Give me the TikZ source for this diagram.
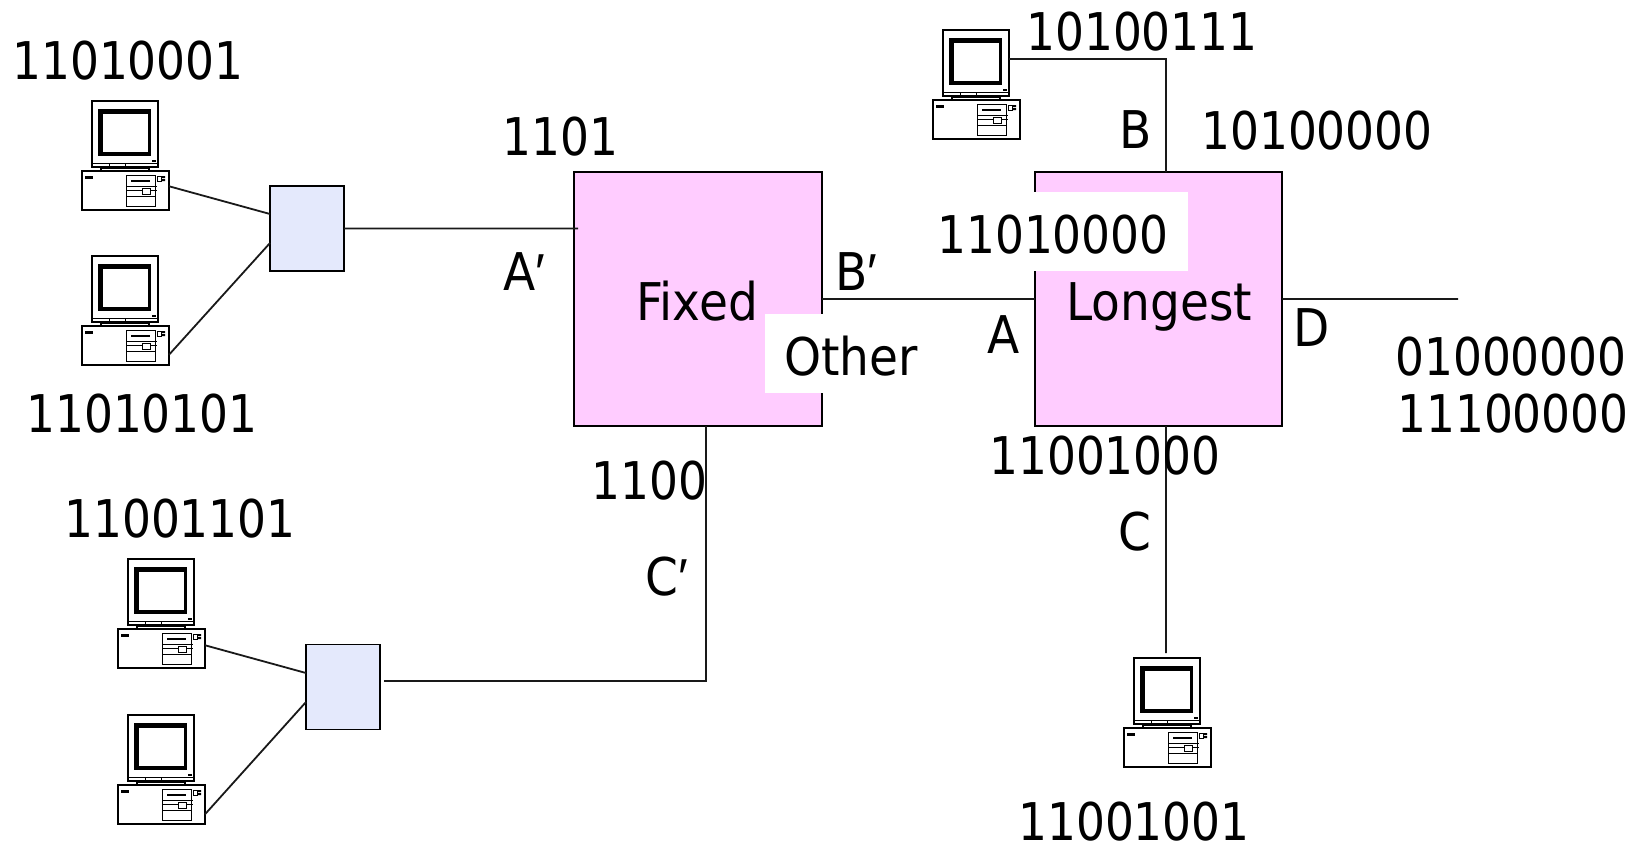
\documentclass[tikz,border=0pt]{standalone}
\usepackage{fontspec}
\setmainfont{DejaVu Sans}[FakeStretch=0.875]
\newfontfamily\wordfont{DejaVu Sans}[FakeStretch=0.905]
\newfontfamily\primefont{Liberation Sans}
\usepackage{xcolor}
\usetikzlibrary{positioning}
\definecolor{routerpink}{HTML}{FFCCFF}
\definecolor{switchblue}{HTML}{E4E9FC}
\newcommand{\pr}{{\primefont ′}}
\tikzset{
    wire/.style={line width=1.8pt, black!90},
    lbl/.style={anchor=base west, inner sep=0pt, font=\fontsize{52}{56}\selectfont},
    wordlbl/.style={lbl, font=\fontsize{52}{56}\selectfont\wordfont},
    router/.style={draw, line width=1.8pt, fill=routerpink, outer sep=0pt, minimum width=248pt, minimum height=254pt},
    switchbox/.style={draw, line width=1.8pt, fill=switchblue, outer sep=0pt, minimum width=74pt, minimum height=85pt},
    mask/.style={fill=white, inner xsep=19pt, text depth=18pt, text height=61pt},
    pcmon/.style={draw, line width=2pt, outer sep=0pt, minimum size=66pt, inner sep=0pt, anchor=north west},
    pcbase/.style={draw, line width=2pt, outer sep=0pt, minimum width=87.5pt, minimum height=38.5pt, inner sep=0pt, anchor=north west},
    computer/.pic={
        \node[pcmon] (mon) at (0,0) {};
        \node[pcbase] (base) at (-10.5,70) {};
        \fill (6,8) rectangle (59,54.5);
        \fill[white] (11,13) rectangle (56,50.5);
        \fill (60,58.5) rectangle (64,60.5);
        \draw[line width=.8pt] (0,62) -- (66,62) (17,62) -- (17,66) (33,62) -- (33,66);
        \draw[line width=1.5pt] (9,66) -- (9,70) (57,66) -- (57,70);
        \draw[line width=.8pt] (9,67.5) -- (57,67.5);
        \fill (-7,75) rectangle (0.5,78);
        \draw[line width=.8pt] (34,74) rectangle (63,105) (34,85) -- (65,85) (34,89) -- (65,89) (34,95) -- (63,95);
        \draw[line width=.8pt, fill=white] (50,87) rectangle (58,93);
        \fill (39,78.7) rectangle (58,80.7);
        \draw[line width=.6pt] (65,75) rectangle (69,80);
        \fill (70,75) rectangle (73,77) (70,78) rectangle (73,80);
    }
}

\begin{document}
\begin{tikzpicture}[x=1pt, y=-1pt]
    \useasboundingbox (0,0) rectangle (1637,844);

    \node[router] (fixed) at (698,299) {};
    \node[router, minimum width=247.5pt] (longest) at (1158.5,299) {};
    \node[switchbox] (sw1) at (307,228.5) {};
    \node[switchbox] (sw2) at (343,687) {};

    \pic (pc1) at (92,101) {computer};
    \pic (pc2) at (92,256) {computer};
    \pic (pc3) at (943,30) {computer};
    \pic (pc4) at (128,559) {computer};
    \pic (pc5) at (128,715) {computer};
    \pic (pc6) at (1134,658) {computer};

    \coordinate (aend) at (578,228.5);
    \coordinate (cstart) at (384,681);
    \coordinate (cdrop) at (1166,653);
    \coordinate (dend) at (1458,299);

    \node[lbl, mask] (lpm) at (918,253) {11010000};
    \node[wordlbl, mask] (other) at (765,375) {Other};

    \draw[wire]
        ([yshift=4pt]pc1base.east) -- ([yshift=14.5pt]sw1.west)
        ([yshift=-9.5pt]pc2base.east) -- ([yshift=-14.5pt]sw1.west)
        (sw1.east) -- (aend)
        ([yshift=3pt]pc4base.east) -- ([yshift=14pt]sw2.west)
        ([yshift=-10pt]pc5base.east) -- ([yshift=-15pt]sw2.west)
        (cstart) -| ([xshift=8pt]fixed.south)
        (fixed.east) -- (longest.west)
        ([yshift=4pt]pc3mon.east) -| ([xshift=7.5pt]longest.north)
        ([xshift=7.5pt]longest.south) -- (cdrop)
        (longest.east) -- (dend);

    \node[lbl] (t1) at (12,79) {11010001};
    \node[lbl] (t2) at (26,432) {11010101};
    \node[lbl] (t3) at (64,537) {11001101};
    \node[lbl] (t4) at (502,155) {1101};
    \node[lbl] (t5) at (591,499) {1100};
    \node[lbl] (t6) at (1026,50) {10100111};
    \node[lbl] (t7) at (1201,149) {10100000};
    \node[lbl] (t8) at (1395,375) {01000000};
    \node[lbl] (t9) at (1397,432) {11100000};
    \node[lbl] (t10) at (989,474) {11001000};
    \node[lbl] (t11) at (1018,840) {11001001};
    \node[wordlbl] (fixedtxt) at (636,320) {Fixed};
    \node[wordlbl] (longesttxt) at (1066,320) {Longest};
    \node[wordlbl] (portap) at (503,290) {A\pr};
    \node[wordlbl] (portbp) at (835,290) {B\pr};
    \node[wordlbl] (portcp) at (645,595) {C\pr};
    \node[wordlbl] (porta) at (987,353) {A};
    \node[wordlbl] (portb) at (1119,148) {B};
    \node[wordlbl] (portc) at (1118,550) {C};
    \node[wordlbl] (portd) at (1293,346) {D};
\end{tikzpicture}
\end{document}
